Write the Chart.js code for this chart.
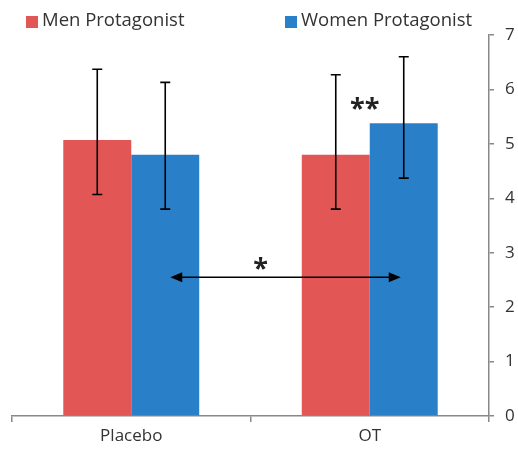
<!DOCTYPE html>
<html>
<head>
<meta charset="utf-8">
<script src="https://cdn.jsdelivr.net/npm/chart.js@4/dist/chart.umd.min.js"></script>
<style>
html,body{margin:0;padding:0;background:#fff;}
#wrap{width:518px;height:454px;position:relative;}
</style>
</head>
<body>
<div id="wrap"><canvas id="c" width="518" height="454"></canvas></div>
<script>
const categories = ['Placebo', 'OT'];
const seriesNames = ['Men Protagonist', 'Women Protagonist'];
const menMeans = [5.07, 4.80];
const menErrLow = [4.07, 3.80];
const menErrHigh = [6.37, 6.27];
const womenMeans = [4.80, 5.38];
const womenErrLow = [3.80, 4.37];
const womenErrHigh = [6.13, 6.60];
const yTicks = [0, 1, 2, 3, 4, 5, 6, 7];
const arrowLevel = 2.55;
const starLevel = 2.78;
const doubleStarLevel = 5.74;

const RED = '#E25656';
const BLUE = '#2A80C8';
const FONT = '"Open Sans", "DejaVu Sans", sans-serif';

const errorBars = {
  id: 'errorBars',
  afterDatasetsDraw(chart) {
    const ctx = chart.ctx;
    const y = chart.scales.y;
    const lows = [menErrLow, womenErrLow];
    const highs = [menErrHigh, womenErrHigh];
    ctx.save();
    ctx.strokeStyle = '#000';
    ctx.lineWidth = 1.6;
    chart.data.datasets.forEach((ds, di) => {
      chart.getDatasetMeta(di).data.forEach((bar, i) => {
        const x = bar.x;
        const yl = y.getPixelForValue(lows[di][i]);
        const yh = y.getPixelForValue(highs[di][i]);
        ctx.beginPath();
        ctx.moveTo(x, yl); ctx.lineTo(x, yh);
        ctx.moveTo(x - 5, yl); ctx.lineTo(x + 5, yl);
        ctx.moveTo(x - 5, yh); ctx.lineTo(x + 5, yh);
        ctx.stroke();
      });
    });
    // significance arrow
    const m1 = chart.getDatasetMeta(1).data;
    const x1 = m1[0].x + 5, x2 = m1[1].x - 3;
    const ya = y.getPixelForValue(arrowLevel);
    ctx.beginPath();
    ctx.moveTo(x1 + 8, ya); ctx.lineTo(x2 - 8, ya);
    ctx.stroke();
    ctx.fillStyle = '#000';
    ctx.beginPath();
    ctx.moveTo(x1, ya); ctx.lineTo(x1 + 12, ya - 5); ctx.lineTo(x1 + 12, ya + 5); ctx.closePath();
    ctx.fill();
    ctx.beginPath();
    ctx.moveTo(x2, ya); ctx.lineTo(x2 - 12, ya - 5); ctx.lineTo(x2 - 12, ya + 5); ctx.closePath();
    ctx.fill();
    // stars
    const xs = chart.scales.x;
    ctx.font = 'bold 27px ' + FONT;
    ctx.textAlign = 'center';
    ctx.textBaseline = 'middle';
    ctx.fillStyle = '#222';
    ctx.fillText('*', xs.getPixelForValue(0.5) + 10, y.getPixelForValue(starLevel) + 5);
    ctx.fillText('**', (chart.getDatasetMeta(0).data[1].x + m1[1].x) / 2 - 5, y.getPixelForValue(doubleStarLevel) + 6);
    ctx.restore();
  }
};

const customLegend = {
  id: 'customLegend',
  afterDraw(chart) {
    const ctx = chart.ctx;
    const cols = [RED, BLUE];
    const xs = [26, 285];
    ctx.save();
    ctx.font = '18.5px ' + FONT;
    ctx.textBaseline = 'middle';
    ctx.textAlign = 'left';
    seriesNames.forEach((n, i) => {
      ctx.fillStyle = cols[i];
      ctx.fillRect(xs[i], 16, 12, 12);
      ctx.fillStyle = '#333';
      ctx.fillText(n, xs[i] + 16, 21);
    });
    ctx.restore();
  }
};

new Chart(document.getElementById('c'), {
  type: 'bar',
  data: {
    labels: categories,
    datasets: [
      { label: seriesNames[0], data: menMeans, backgroundColor: RED },
      { label: seriesNames[1], data: womenMeans, backgroundColor: BLUE }
    ]
  },
  options: {
    responsive: false,
    animation: false,
    layout: { padding: { left: 12, top: 35, right: 0, bottom: 0 } },
    plugins: { legend: { display: false }, tooltip: { enabled: false } },
    datasets: { bar: { categoryPercentage: 0.57, barPercentage: 1.0 } },
    scales: {
      x: {
        offset: true,
        grid: { offset: true, drawOnChartArea: false, color: '#888', tickLength: 6, lineWidth: 1.5 },
        border: { color: '#888', width: 1.5 },
        ticks: { color: '#333', font: { family: FONT, size: 17 }, padding: 4 },
        afterFit(s) { s.height = 38; }
      },
      y: {
        position: 'right',
        min: 0, max: 7,
        afterBuildTicks(s) { s.ticks = yTicks.map(v => ({ value: v })); },
        grid: { drawOnChartArea: false, color: '#888', tickLength: 5, lineWidth: 1.5 },
        border: { color: '#888', width: 1.5 },
        ticks: { color: '#333', font: { family: FONT, size: 17 }, padding: 11 },
        afterFit(s) { s.width = 29; }
      }
    }
  },
  plugins: [errorBars, customLegend]
});
</script>
</body>
</html>
